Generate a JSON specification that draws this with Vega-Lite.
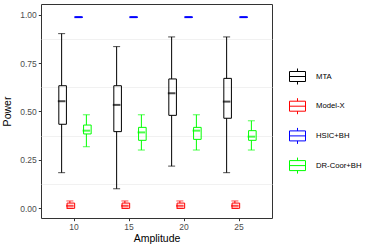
{
  "$schema": "https://vega.github.io/schema/vega-lite/v6.json",
  "autosize": "none",
  "padding": {"left": 41, "top": 4, "right": 102, "bottom": 31},
  "width": 231,
  "height": 214,
  "config": {
    "font": "Liberation Sans",
    "view": {"stroke": "#333333", "strokeWidth": 1},
    "axis": {
      "labelFont": "Liberation Sans",
      "titleFont": "Liberation Sans",
      "labelFontSize": 8.5,
      "labelColor": "#4D4D4D",
      "titleFontSize": 10.5,
      "titleFontWeight": "normal",
      "titleColor": "#000000",
      "tickColor": "#333333",
      "tickSize": 2.7,
      "domain": false
    },
    "axisX": {"labelAngle": 0, "labelPadding": 1.5, "titlePadding": 2.5, "grid": false},
    "legend": {
      "orient": "none",
      "legendX": 248,
      "legendY": 64,
      "padding": 0,
      "rowPadding": 8.7,
      "symbolSize": 256,
      "symbolType": "M-1,-0.625H1V0.625H-1Z M-1,0H1 M0,-1V-0.625 M0,0.625V1",
      "symbolStrokeWidth": 1,
      "symbolOpacity": 1,
      "labelOffset": 10,
      "labelFontSize": 7.7,
      "labelFontWeight": "normal",
      "labelFont": "Liberation Sans",
      "labelColor": "#000000"
    }
  },
  "data": {
    "values": [
      {"Amplitude": "10", "Method": "MTA", "lower": 0.184, "q1": 0.434, "median": 0.553, "q3": 0.633, "upper": 0.902},
      {"Amplitude": "10", "Method": "Model-X", "lower": 0.0, "q1": 0.0, "median": 0.013, "q3": 0.027, "upper": 0.038},
      {"Amplitude": "10", "Method": "HSIC+BH", "lower": 0.987, "q1": 0.987, "median": 0.987, "q3": 0.987, "upper": 0.987},
      {"Amplitude": "10", "Method": "DR-Coor+BH", "lower": 0.318, "q1": 0.384, "median": 0.401, "q3": 0.43, "upper": 0.483},
      {"Amplitude": "15", "Method": "MTA", "lower": 0.101, "q1": 0.396, "median": 0.534, "q3": 0.633, "upper": 0.835},
      {"Amplitude": "15", "Method": "Model-X", "lower": 0.0, "q1": 0.0, "median": 0.013, "q3": 0.027, "upper": 0.038},
      {"Amplitude": "15", "Method": "HSIC+BH", "lower": 0.987, "q1": 0.987, "median": 0.987, "q3": 0.987, "upper": 0.987},
      {"Amplitude": "15", "Method": "DR-Coor+BH", "lower": 0.301, "q1": 0.351, "median": 0.392, "q3": 0.418, "upper": 0.483},
      {"Amplitude": "20", "Method": "MTA", "lower": 0.218, "q1": 0.48, "median": 0.594, "q3": 0.668, "upper": 0.885},
      {"Amplitude": "20", "Method": "Model-X", "lower": 0.0, "q1": 0.0, "median": 0.013, "q3": 0.027, "upper": 0.038},
      {"Amplitude": "20", "Method": "HSIC+BH", "lower": 0.987, "q1": 0.987, "median": 0.987, "q3": 0.987, "upper": 0.987},
      {"Amplitude": "20", "Method": "DR-Coor+BH", "lower": 0.301, "q1": 0.356, "median": 0.401, "q3": 0.418, "upper": 0.483},
      {"Amplitude": "25", "Method": "MTA", "lower": 0.184, "q1": 0.465, "median": 0.551, "q3": 0.671, "upper": 0.885},
      {"Amplitude": "25", "Method": "Model-X", "lower": 0.0, "q1": 0.0, "median": 0.013, "q3": 0.027, "upper": 0.038},
      {"Amplitude": "25", "Method": "HSIC+BH", "lower": 0.987, "q1": 0.987, "median": 0.987, "q3": 0.987, "upper": 0.987},
      {"Amplitude": "25", "Method": "DR-Coor+BH", "lower": 0.301, "q1": 0.351, "median": 0.37, "q3": 0.401, "upper": 0.452}
    ]
  },
  "encoding": {
    "x": {
      "field": "Amplitude",
      "type": "nominal",
      "title": "Amplitude",
      "sort": ["10", "15", "20", "25"],
      "scale": {"paddingInner": 0.4, "paddingOuter": 0.3}
    },
    "xOffset": {
      "field": "Method",
      "type": "nominal",
      "sort": ["MTA", "Model-X", "HSIC+BH", "DR-Coor+BH"],
      "scale": {"paddingInner": 0, "paddingOuter": 0}
    },
    "color": {
      "field": "Method",
      "type": "nominal",
      "title": null,
      "scale": {
        "domain": ["MTA", "Model-X", "HSIC+BH", "DR-Coor+BH"],
        "range": ["#000000", "#FF0000", "#0000FF", "#00FF00"]
      },
      "legend": {
        "encode": {
          "symbols": {
            "update": {
              "fill": {"value": "transparent"},
              "stroke": {"scale": "color", "field": "value"},
              "strokeWidth": {"value": 1},
              "opacity": {"value": 1},
              "fillOpacity": {"value": 0},
              "strokeOpacity": {"value": 1}
            }
          }
        }
      }
    }
  },
  "layer": [
    {
      "mark": {"type": "rule", "strokeWidth": 1},
      "encoding": {
        "y": {
          "field": "lower",
          "type": "quantitative",
          "scale": {"domain": [-0.05, 1.055], "nice": false, "zero": false},
          "axis": {
            "orient": "left",
            "values": [0.125, 0.375, 0.625, 0.875],
            "grid": true,
            "gridColor": "#EBEBEB",
            "gridWidth": 0.7,
            "labels": false,
            "ticks": false,
            "domain": false,
            "title": null
          }
        },
        "y2": {"field": "q1"}
      }
    },
    {
      "mark": {"type": "rule", "strokeWidth": 1},
      "encoding": {
        "y": {
          "field": "q3",
          "type": "quantitative",
          "title": "Power",
          "axis": {
            "orient": "left",
            "values": [0, 0.25, 0.5, 0.75, 1],
            "format": ".2f",
            "grid": false,
            "labelPadding": 2,
            "titlePadding": 7
          }
        },
        "y2": {"field": "upper"}
      }
    },
    {
      "mark": {"type": "tick", "size": 7, "thickness": 1},
      "encoding": {"y": {"field": "upper", "type": "quantitative", "axis": null}}
    },
    {
      "mark": {"type": "tick", "size": 7, "thickness": 1},
      "encoding": {"y": {"field": "lower", "type": "quantitative", "axis": null}}
    },
    {
      "mark": {"type": "bar", "filled": false, "strokeWidth": 1, "width": {"band": 0.92}},
      "encoding": {
        "y": {"field": "q1", "type": "quantitative", "axis": null},
        "y2": {"field": "q3"}
      }
    },
    {
      "mark": {"type": "tick", "size": 7.6, "thickness": 2},
      "encoding": {"y": {"field": "median", "type": "quantitative", "axis": null}}
    }
  ],
  "resolve": {"axis": {"y": "independent"}}
}
